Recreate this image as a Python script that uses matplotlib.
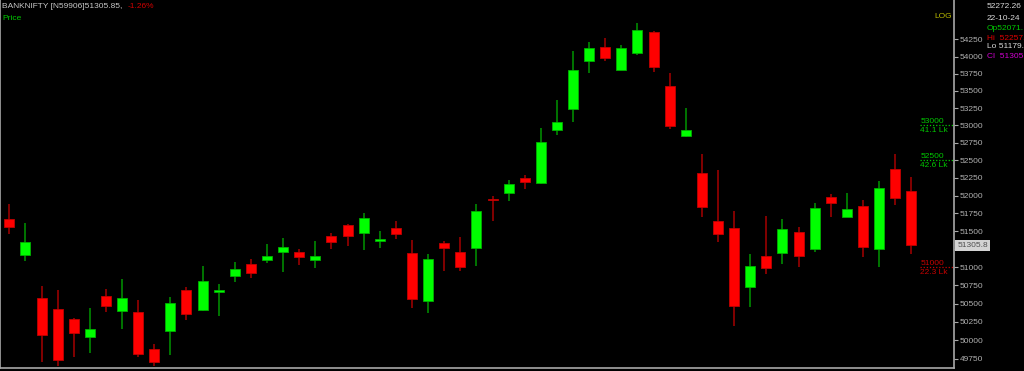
import matplotlib
matplotlib.use("Agg")
import matplotlib.pyplot as plt
from matplotlib.ticker import FixedLocator, NullLocator, NullFormatter

plt.rcParams['font.family'] = ['Liberation Sans', 'DejaVu Sans']

# daily candles (oldest first)
opens = [51669, 51167, 50582, 50432, 50287, 50042, 50610, 50400, 50387, 49878,
         50123, 50688, 50410, 50660, 50885, 51043, 51102, 51212, 51208, 51102,
         51436, 51584, 51478, 51366, 51548, 51199, 50536, 51333, 51217, 51268,
         51957, 52038, 52256, 52180, 52941, 53242, 53931, 54136, 53804, 54057,
         54366, 53571, 52852, 52323, 51646, 51548, 50725, 51161, 51194, 51496,
         51251, 51981, 51701, 51855, 51251, 52376, 52071.1]
highs = [51883, 51618, 50747, 50688, 50300, 50437, 50702, 50836, 50550, 49951,
         50594, 50725, 51019, 50766, 51079, 51116, 51324, 51408, 51256, 51370,
         51472, 51600, 51761, 51506, 51645, 51380, 51189, 51366, 51426, 51883,
         51996, 52223, 52294, 52965, 53367, 54086, 54214, 54269, 54170, 54490,
         54380, 53756, 53248, 52596, 52365, 51789, 51181, 51715, 51669, 51556,
         51901, 52024, 52038, 51939, 52209, 52588, 52257.3]
lows = [51460, 51088, 49711, 49657, 49779, 49824, 50387, 50150, 49779, 49657,
        49801, 50278, 50395, 50332, 50803, 50858, 51061, 50941, 51033, 50987,
        51251, 51296, 51240, 51268, 51390, 50445, 50368, 50954, 50950, 51019,
        51645, 51929, 52095, 52162, 52860, 53055, 53766, 53931, 53800, 54027,
        53780, 52948, 52833, 51696, 51357, 50196, 50459, 50905, 51051, 51005,
        51217, 51701, 51700, 51148, 51005, 51865, 51179.4]
closes = [51562, 51352, 50073, 49734, 50100, 50155, 50472, 50574, 49815, 49706,
          50513, 50364, 50808, 50684, 50982, 50927, 51153, 51282, 51139, 51153,
          51348, 51440, 51691, 51398, 51468, 50564, 51116, 51268, 51005, 51780,
          51935, 52162, 52195, 52760, 53051, 53809, 54126, 53984, 54126, 54396,
          53853, 52985, 52938, 51845, 51460, 50472, 51024, 50996, 51534, 51161,
          51827, 51901, 51809, 51286, 52105, 51963, 51305.85]

price_ticks = list(range(49750, 54251, 250))
hidden_tick = 51250  # sits under the last-price box

# level markers on the right (price, volume text, colour)
levels = [53000, 52500, 51000]
level_vols = ["41.1 Lk", "42.6 Lk", "22.3 Lk"]
level_colors = ["#00c800", "#00c800", "#c80000"]

info_lines = ["52272.26", "22-10-24", "Op52071.", "Hi  52257.", "Lo 51179.", "Cl  51305."]
info_colors = ["#d8d8d8", "#d8d8d8", "#00c800", "#e00000", "#d8d8d8", "#d000d0"]

UP, DOWN = "#00ff00", "#ff0000"
UP_WICK, DOWN_WICK = "#008a00", "#990000"
GREY = "#a8a8a8"

fig = plt.figure(figsize=(10.24, 3.71), dpi=100, facecolor="black")
ax = fig.add_axes([0, 3 / 371, 954 / 1024, 368 / 371], facecolor="black")

for i in range(len(opens)):
    o, h, l, c = opens[i], highs[i], lows[i], closes[i]
    up = c >= o
    ax.vlines(i, l, h, color=UP_WICK if up else DOWN_WICK, linewidth=1.2, zorder=1)
    ax.bar(i, max(abs(c - o), 8), bottom=min(o, c), width=0.62,
           color=UP if up else DOWN, edgecolor="#00b000" if up else "#c00000",
           linewidth=0.6, zorder=2)

ax.set_yscale("log")
ax.set_ylim(49626, 54834)
ax.set_xlim(-0.577, 58.65)

ax.yaxis.set_major_locator(FixedLocator(price_ticks))
ax.yaxis.set_minor_locator(NullLocator())
ax.yaxis.set_minor_formatter(NullFormatter())
ax.set_yticklabels(["" if t == hidden_tick else str(t) for t in price_ticks])
ax.yaxis.tick_right()
ax.tick_params(axis="y", colors=GREY, labelsize=6, length=3, width=0.8, pad=1)
ax.tick_params(axis="y", labelcolor="#b0b0b0")
ax.set_xticks([])

for side in ["left", "bottom", "right"]:
    ax.spines[side].set_color(GREY)
    ax.spines[side].set_linewidth(1.2)
ax.spines["top"].set_visible(False)

# dotted level lines with labels
for lv, vol, col in zip(levels, level_vols, level_colors):
    ax.hlines(lv, 56.55, 58.65, colors=col, linestyles=(0, (1, 1.5)), linewidth=0.9)
    ax.annotate(str(lv), (56.55, lv), xytext=(0, 0.5), textcoords="offset points",
                ha="left", va="bottom", color=col, fontsize=6)
    ax.annotate(vol, (56.55, lv), xytext=(0, -1), textcoords="offset points",
                ha="left", va="top", color=col, fontsize=6)

# last price box on the axis
ax.annotate("51305.8", xy=(1.0, closes[-1]), xycoords=("axes fraction", "data"),
            xytext=(2.5, 0), textcoords="offset points", ha="left", va="center",
            fontsize=6, color="#505050", annotation_clip=False, zorder=5,
            bbox=dict(boxstyle="square,pad=0.25", facecolor="#d4d4d4", edgecolor="none"))

# header texts
fig.text(2 / 1024, 1 - 7 / 371, "BANKNIFTY [N59906]51305.85,", color="#c8c8c8",
         fontsize=6, va="center", ha="left")
fig.text(128 / 1024, 1 - 7 / 371, "-1.26%", color="#d00000",
         fontsize=6, va="center", ha="left")
fig.text(2 / 1024, 1 - 18 / 371, "Price", color="#00c800",
         fontsize=6, va="center", ha="left")
fig.text(952 / 1024, 1 - 17 / 371, "LOG", color="#b8b800",
         fontsize=6, va="center", ha="right")

ys = [7, 18, 28, 38, 47, 56]
for txt, col, y in zip(info_lines, info_colors, ys):
    fig.text(987 / 1024, 1 - y / 371, txt, color=col, fontsize=6,
             va="center", ha="left")

fig.savefig("out.png", dpi=100, facecolor="black")
